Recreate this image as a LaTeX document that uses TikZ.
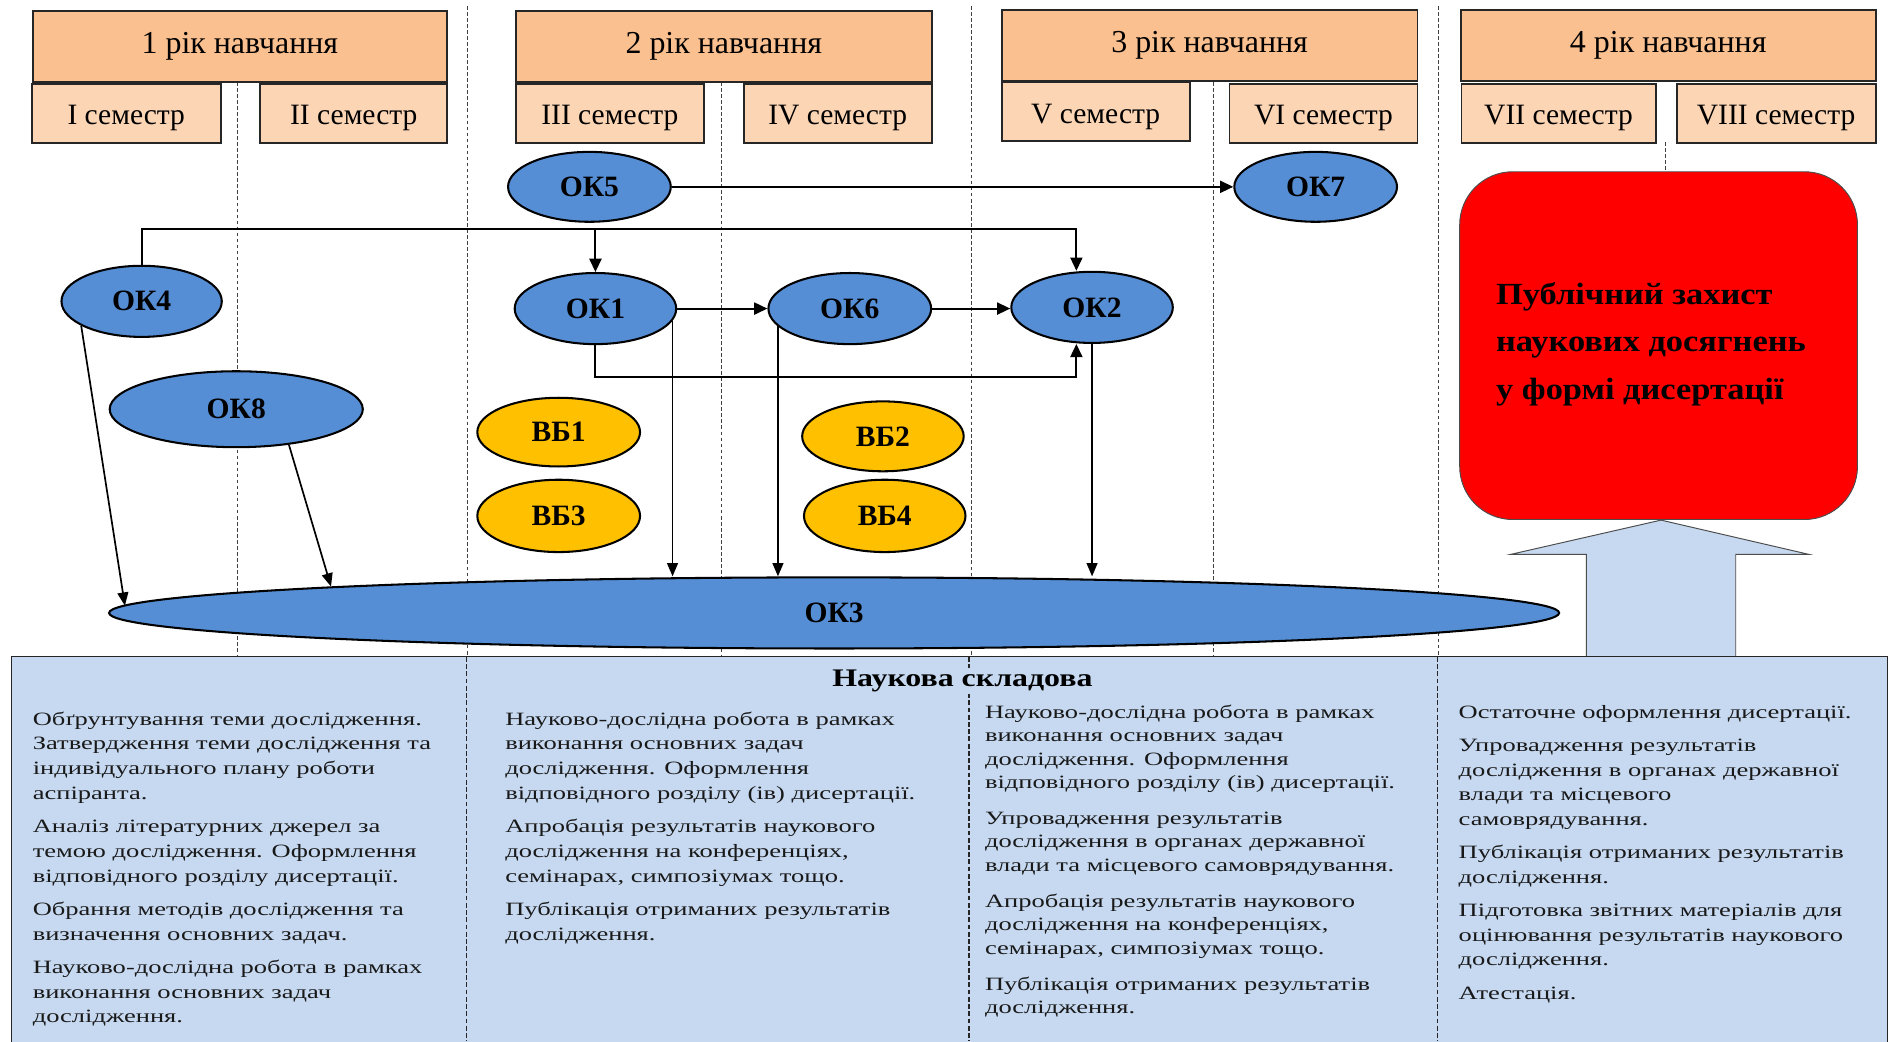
\documentclass[tikz,border=0pt]{standalone}
\usepackage{fontspec}
\setmainfont{Liberation Serif}
\newfontfamily\bodyf[FakeStretch=1.41]{Liberation Serif}
\newfontfamily\titlef[FakeStretch=1.26]{Liberation Serif}
\newfontfamily\redf[FakeStretch=1.12]{Liberation Serif}
\usetikzlibrary{arrows.meta,calc,shapes.geometric}
\definecolor{yearc}{HTML}{FAC090}
\definecolor{semc}{HTML}{FCD5B5}
\definecolor{okblue}{HTML}{558ED5}
\definecolor{vbyel}{HTML}{FFC000}
\definecolor{lblue}{HTML}{C6D9F1}
\definecolor{redbox}{HTML}{FF0000}
\newcommand\myln[1]{\hbox{#1}}
\begin{document}
\begin{tikzpicture}[x=1pt,y=-1pt,
  yearbox/.style={draw=black!85,line width=1.6pt,fill=yearc,minimum width=344pt,minimum height=59pt,inner sep=0pt,font=\fontsize{26.5}{30}\selectfont},
  sembox/.style={draw=black!85,line width=1.6pt,fill=semc,minimum height=49pt,inner sep=0pt,text height=24pt,text depth=5pt,font=\fontsize{24.5}{28}\selectfont},
  okel/.style={ellipse,draw=black,line width=1.7pt,fill=okblue,minimum width=134pt,minimum height=59pt,inner sep=0pt,font=\bfseries\fontsize{24.5}{28}\selectfont},
  vbel/.style={okel,fill=vbyel},
  gridline/.style={draw=black!75,line width=0.6pt,dash pattern=on 3pt off 2pt},
  divline/.style={draw=black!85,line width=1.1pt,dash pattern=on 4pt off 2pt},
  conn/.style={draw=black,line width=1.7pt},
  arr/.style={conn,-{Triangle[length=11pt,width=10pt]}},
  thinarr/.style={draw=black,line width=1.4pt,-{Triangle[length=11pt,width=9pt]}},
  coltext/.style={anchor=base west,inner sep=0pt,text=black!90}
]
\useasboundingbox[fill=white] (0,0) rectangle (1568,864);

% dashed guide lines
\draw[gridline] (197,68) -- (197,545);
\draw[gridline] (388,5) -- (388,545);
\draw[gridline] (598.5,68) -- (598.5,545);
\draw[gridline] (806,5) -- (806,545);
\draw[gridline] (1007,68) -- (1007,545);
\draw[gridline] (1193,5) -- (1193,545);
\draw[gridline] (1381.5,118) -- (1381.5,143);

% semester boxes
\node[sembox,minimum width=156.5pt] (s1) at (104.75,94) {I семестр};
\node[sembox,minimum width=155pt] (s2) at (293.5,94) {II семестр};
\node[sembox,minimum width=156pt] (s3) at (506,94) {III семестр};
\node[sembox,minimum width=156pt] (s4) at (695,94) {IV семестр};
\node[sembox,minimum width=156pt] (s5) at (909,92.7) {V семестр};
\node[sembox,minimum width=156pt] (s6) at (1098,94) {VI семестр};
\node[sembox,minimum width=161pt] (s7) at (1293,94) {VII семестр};
\node[sembox,minimum width=165pt] (s8) at (1473.5,94) {VIII семестр};

% year boxes
\node[yearbox] (y1) at (199,38.5) {1 рік навчання};
\node[yearbox,minimum width=345pt] (y2) at (600.5,38.5) {2 рік навчання};
\node[yearbox,minimum width=345pt] (y3) at (1003.5,38) {3 рік навчання};
\node[yearbox] (y4) at (1384,38) {4 рік навчання};

% ellipses
\node[okel,minimum height=58pt,minimum width=135pt] (ok5) at (489,155) {ОК5};
\node[okel,minimum height=58pt,minimum width=135pt] (ok7) at (1091.5,155) {ОК7};
\node[okel,minimum width=133pt] (ok4) at (117.5,250) {ОК4};
\node[okel,minimum width=210pt,minimum height=63pt] (ok8) at (196,339.5) {ОК8};
\node[okel] (ok1) at (494,256) {ОК1};
\node[okel,minimum width=135pt] (ok6) at (705,256) {ОК6};
\node[okel] (ok2) at (906,255) {ОК2};
\node[vbel,minimum width=135pt,minimum height=57pt] (vb1) at (463.5,358.5) {ВБ1};
\node[vbel,minimum width=135pt,minimum height=60pt] (vb3) at (463.5,428) {ВБ3};
\node[vbel,minimum height=58pt] (vb2) at (732.5,362) {ВБ2};
\node[vbel,minimum height=60pt] (vb4) at (734,428) {ВБ4};
\node[okel,minimum width=1203pt,minimum height=59pt] (ok3) at (692,508.5) {ОК3};

% defence box
\node[draw=black!70,line width=0.8pt,fill=redbox,rounded corners=44pt,minimum width=330pt,minimum height=288.5pt,inner sep=0pt] (def) at (1376,286.75) {};
\node[anchor=base west,inner sep=0pt] (deftext) at (1241,252.5) {\redf\bfseries\fontsize{25.5}{39.5}\selectfont\vtop{\myln{Публічний захист}\myln{наукових досягнень}\myln{у формі дисертації}}};

% block arrow
\draw[fill=lblue,draw=black!70,line width=0.8pt] (1316,545) -- (1316,460) -- (1253,460) -- (1378,431.5) -- (1501,460) -- (1440,460) -- (1440,545);

% bottom panel
\fill[lblue] (9.5,544.5) rectangle (1566,870);
\draw[black!85,line width=1.2pt] (9.5,870) -- (9.5,544.5) -- (1566,544.5) -- (1566,870);
\draw[divline] (387,545) -- (387,864);
\draw[divline] (804,545) -- (804,864);
\draw[divline] (1192.5,545) -- (1192.5,864);
\node[fill=lblue,inner sep=2pt,font=\titlef\bfseries\fontsize{21}{24}\selectfont] (title) at (798.5,565) {Наукова складова};

% connectors
\coordinate (br) at (893,190);
\draw[arr] (ok4.north) |- (br) -- (br |- ok2.north);
\draw[arr] (ok1.north |- br) -- (ok1.north);
\draw[arr] (ok5.east) -- (ok7.west);
\draw[arr] (ok1.east) -- (ok6.west);
\draw[arr] (ok6.east) -- (ok6.east -| ok2.west);
\coordinate (lb) at (893,312.5);
\draw[arr] (ok1.south) |- (lb) -- (lb |- ok2.south);
\draw[thinarr] (ok1.-9) -- (ok1.-9 |- ok3.north);
\draw[thinarr] (ok6.194) -- (ok6.194 |- ok3.north);
\draw[thinarr] (ok2.south) -- (ok2.south |- ok3.north);
\draw[thinarr] (ok4.202) -- ($(ok3.west)+(14,-6)$);
\draw[thinarr] (ok8.-34) -- (ok3.177);

% column texts
\node[coltext] (c1) at (27,601.5) {\bodyf\fontsize{15.6}{20.7}\selectfont\vtop{%
\myln{Обґрунтування теми дослідження.}\myln{Затвердження теми дослідження та}\myln{індивідуального плану роботи}\myln{аспіранта.}\vskip6.5pt
\myln{Аналіз літературних джерел за}\myln{темою дослідження. Оформлення}\myln{відповідного розділу дисертації.}\vskip6.5pt
\myln{Обрання методів дослідження та}\myln{визначення основних задач.}\vskip6.5pt
\myln{Науково-дослідна робота в рамках}\myln{виконання основних задач}\myln{дослідження.}}};

\node[coltext] (c2) at (419,601.5) {\bodyf\fontsize{15.6}{20.7}\selectfont\vtop{%
\myln{Науково-дослідна робота в рамках}\myln{виконання основних задач}\myln{дослідження. Оформлення}\myln{відповідного розділу (ів) дисертації.}\vskip6.5pt
\myln{Апробація результатів наукового}\myln{дослідження на конференціях,}\myln{семінарах, симпозіумах тощо.}\vskip6.5pt
\myln{Публікація отриманих результатів}\myln{дослідження.}}};

\node[coltext] (c3) at (817,596) {\bodyf\fontsize{15.6}{19.4}\selectfont\vtop{%
\myln{Науково-дослідна робота в рамках}\myln{виконання основних задач}\myln{дослідження. Оформлення}\myln{відповідного розділу (ів) дисертації.}\vskip10.5pt
\myln{Упровадження результатів}\myln{дослідження в органах державної}\myln{влади та місцевого самоврядування.}\vskip10.5pt
\myln{Апробація результатів наукового}\myln{дослідження на конференціях,}\myln{семінарах, симпозіумах тощо.}\vskip10.5pt
\myln{Публікація отриманих результатів}\myln{дослідження.}}};

\node[coltext] (c4) at (1210,596) {\bodyf\fontsize{15.6}{20.4}\selectfont\vtop{%
\myln{Остаточне оформлення дисертації.}\vskip7.2pt
\myln{Упровадження результатів}\myln{дослідження в органах державної}\myln{влади та місцевого}\myln{самоврядування.}\vskip7.2pt
\myln{Публікація отриманих результатів}\myln{дослідження.}\vskip7.2pt
\myln{Підготовка звітних матеріалів для}\myln{оцінювання результатів наукового}\myln{дослідження.}\vskip7.2pt
\myln{Атестація.}}};
\end{tikzpicture}
\end{document}
